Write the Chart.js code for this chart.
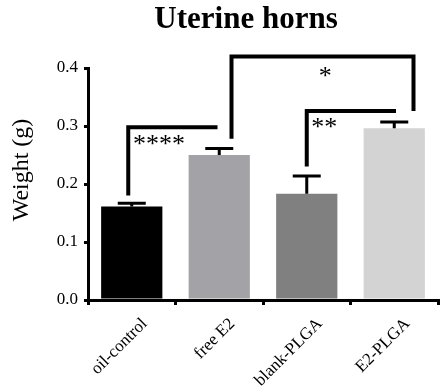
<!DOCTYPE html>
<html>
<head>
<meta charset="utf-8">
<script src="https://cdn.jsdelivr.net/npm/chart.js@4"></script>
<style>
html,body{margin:0;padding:0;background:#fff;}
#wrap{width:447px;height:390px;}
</style>
</head>
<body>
<div id="wrap"><canvas id="c" width="447" height="390"></canvas></div>
<script>
const categories = ['oil-control', 'free E2', 'blank-PLGA', 'E2-PLGA'];
const means = [0.161, 0.250, 0.183, 0.296];
const errors = [0.006, 0.011, 0.031, 0.011];
const barColors = ['#000000', '#a3a2a7', '#808080', '#d3d3d3'];
const yTicks = [0.0, 0.1, 0.2, 0.3, 0.4];
const chartTitle = 'Uterine horns';
const yTitle = 'Weight (g)';
// significance brackets (x in category units, y in data units)
const bracketX1 = [-0.04, 1.14, 2.0];
const bracketX2 = [0.98, 3.22, 3.02];
const bracketTop = [0.298, 0.42, 0.326];
const bracketLeftFoot = [0.18, 0.278, 0.23];
const bracketRightFoot = [null, 0.326, null];
const bracketLabels = ['****', '*', '**'];
const labelX = [0.31, 2.21, 2.2];
const labelY = [0.276, 0.393, 0.305];

const SERIF = '"Liberation Serif", "DejaVu Serif", serif';

const overlay = {
  id: 'overlay',
  afterDatasetsDraw(chart) {
    const ctx = chart.ctx;
    const xs = chart.scales.x, ys = chart.scales.y;
    const step = xs.getPixelForValue(1) - xs.getPixelForValue(0);
    const px = v => xs.getPixelForValue(0) + v * step;
    const meta = chart.getDatasetMeta(0);
    ctx.save();
    // error bars (upper only)
    ctx.strokeStyle = '#000';
    ctx.lineWidth = 3;
    meta.data.forEach((bar, i) => {
      const x = bar.x;
      const y0 = ys.getPixelForValue(means[i]);
      const y1 = ys.getPixelForValue(means[i] + errors[i]);
      ctx.beginPath();
      ctx.moveTo(x, y0);
      ctx.lineTo(x, y1);
      ctx.moveTo(x - 14, y1);
      ctx.lineTo(x + 14, y1);
      ctx.stroke();
    });
    // brackets
    ctx.lineWidth = 4;
    ctx.lineCap = 'butt';
    ctx.lineJoin = 'miter';
    for (let i = 0; i < bracketLabels.length; i++) {
      const x1 = px(bracketX1[i]), x2 = px(bracketX2[i]);
      const yt = ys.getPixelForValue(bracketTop[i]);
      ctx.beginPath();
      ctx.moveTo(x1, ys.getPixelForValue(bracketLeftFoot[i]));
      ctx.lineTo(x1, yt);
      ctx.lineTo(x2, yt);
      if (bracketRightFoot[i] !== null) ctx.lineTo(x2, ys.getPixelForValue(bracketRightFoot[i]));
      ctx.stroke();
      ctx.fillStyle = '#000';
      ctx.font = '26px ' + SERIF;
      ctx.textAlign = 'center';
      ctx.textBaseline = 'middle';
      ctx.fillText(bracketLabels[i], px(labelX[i]), ys.getPixelForValue(labelY[i]) + 5);
    }
    // titles
    ctx.fillStyle = '#000';
    ctx.font = 'bold 31px ' + SERIF;
    ctx.textAlign = 'center';
    ctx.textBaseline = 'alphabetic';
    ctx.fillText(chartTitle, 246, 28);
    ctx.save();
    ctx.translate(22, 170);
    ctx.rotate(-Math.PI / 2);
    ctx.textBaseline = 'middle';
    ctx.font = '24px ' + SERIF;
    ctx.fillText(yTitle, 0, 0);
    ctx.restore();
    ctx.restore();
  }
};

new Chart(document.getElementById('c'), {
  type: 'bar',
  data: {
    labels: categories,
    datasets: [{
      data: means,
      backgroundColor: barColors,
      borderWidth: 0,
      categoryPercentage: 0.7,
      barPercentage: 1.0
    }]
  },
  options: {
    responsive: false,
    animation: false,
    devicePixelRatio: 1,
    layout: { padding: { left: 0, right: 9, top: 68, bottom: 0 } },
    plugins: { legend: { display: false }, tooltip: { enabled: false }, title: { display: false } },
    scales: {
      x: {
        grid: { display: true, drawOnChartArea: false, drawTicks: true, tickLength: 5, color: '#000', lineWidth: 3 },
        border: { display: true, color: '#000', width: 3 },
        ticks: { color: '#000', font: { family: SERIF, size: 17 }, maxRotation: 45, minRotation: 45, padding: 9, labelOffset: 13 },
        afterFit(s) { s.height = 90; }
      },
      y: {
        min: 0, max: 0.4,
        afterBuildTicks(s) { s.ticks = yTicks.map(v => ({ value: v })); },
        grid: { display: true, drawOnChartArea: false, drawTicks: true, tickLength: 4, color: '#000', lineWidth: 3 },
        border: { display: true, color: '#000', width: 3 },
        ticks: { color: '#000', font: { family: SERIF, size: 17 }, padding: 6, callback: v => v.toFixed(1) },
        afterFit(s) { s.width = 88; }
      }
    }
  },
  plugins: [overlay]
});
</script>
</body>
</html>
